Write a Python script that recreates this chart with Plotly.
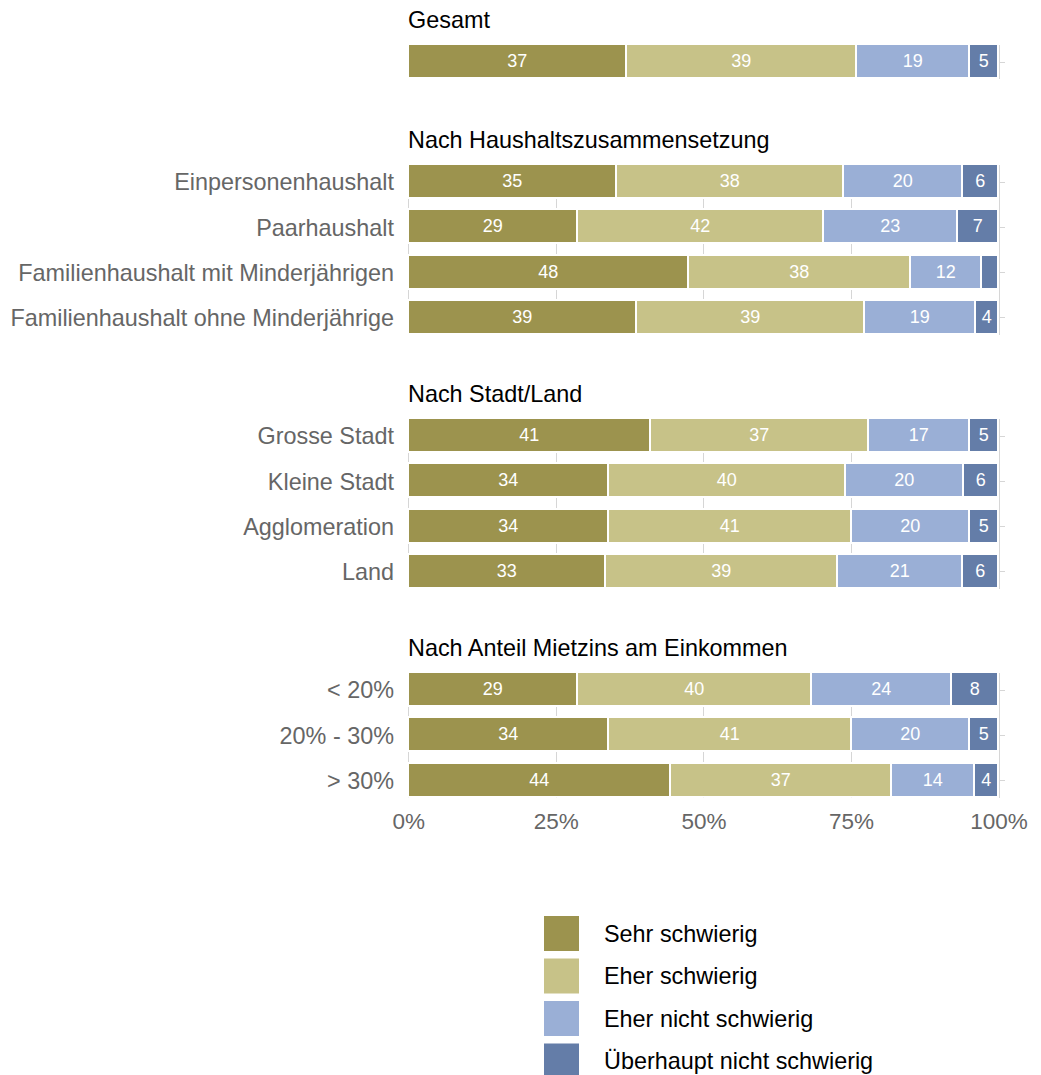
import plotly.graph_objects as go

# ---------------- data ----------------
series_names = ["Sehr schwierig", "Eher schwierig", "Eher nicht schwierig", "Überhaupt nicht schwierig"]
series_colors = ["#9C934E", "#C7C288", "#9AAFD6", "#647DA8"]

panel_titles = ["Gesamt", "Nach Haushaltszusammensetzung", "Nach Stadt/Land", "Nach Anteil Mietzins am Einkommen"]

categories = [
    "Gesamt",
    "Einpersonenhaushalt", "Paarhaushalt", "Familienhaushalt mit Minderjährigen", "Familienhaushalt ohne Minderjährige",
    "Grosse Stadt", "Kleine Stadt", "Agglomeration", "Land",
    "< 20%", "20% - 30%", "> 30%",
]
category_panel = [0, 1, 1, 1, 1, 2, 2, 2, 2, 3, 3, 3]

sehr_schwierig = [37, 35, 29, 48, 39, 41, 34, 34, 33, 29, 34, 44]
eher_schwierig = [39, 38, 42, 38, 39, 37, 40, 41, 39, 40, 41, 37]
eher_nicht_schwierig = [19, 20, 23, 12, 19, 17, 20, 20, 21, 24, 20, 14]
ueberhaupt_nicht_schwierig = [5, 6, 7, 3, 4, 5, 6, 5, 6, 8, 5, 4]
# labels shown in the segments ("" = hidden)
ueberhaupt_labels = ["5", "6", "7", "", "4", "5", "6", "5", "6", "8", "5", "4"]

x_tick_values = [0, 25, 50, 75, 100]
x_tick_labels = ["0%", "25%", "50%", "75%", "100%"]

# ---------------- layout geometry ----------------
W, H = 1041, 1075
ML, MR = 407, 36
PW = W - ML - MR
PITCH = 45.33
BARW = 0.75
panel_tops = [45, 165, 419, 673]
FONT = "Liberation Sans, Arial, Helvetica, sans-serif"
GRID = "#d6d6d6"
FS = 23.4

def px_x(p):
    return (p - ML) / PW

def px_y(p):
    return 1 - p / H

all_values = [sehr_schwierig, eher_schwierig, eher_nicht_schwierig, ueberhaupt_nicht_schwierig]
totals = [sum(v[i] for v in all_values) for i in range(len(categories))]

fig = go.Figure()
layout_axes = {}
annotations = []

for p, title in enumerate(panel_titles):
    idx = [i for i, c in enumerate(category_panel) if c == p]
    cats = [categories[i] for i in idx]
    n = len(cats)
    ax = "" if p == 0 else str(p + 1)
    top = panel_tops[p]
    height = (n - 1 + BARW) * PITCH
    bottom = top + height
    for s, name in enumerate(series_names):
        vals = [all_values[s][i] / totals[i] * 100 for i in idx]
        if s == 3:
            txt = [ueberhaupt_labels[i] for i in idx]
        else:
            txt = [str(all_values[s][i]) for i in idx]
        fig.add_trace(go.Bar(
            x=vals, y=cats, orientation="h", name=name,
            marker=dict(color=series_colors[s], line=dict(color="white", width=1.6)),
            width=BARW, text=txt, textposition="inside", insidetextanchor="middle",
            textangle=0, textfont=dict(color="white", size=18, family=FONT),
            hoverinfo="skip", showlegend=False,
            xaxis="x" + ax, yaxis="y" + ax,
        ))
    layout_axes["xaxis" + ax] = dict(
        domain=[0, 1], anchor="y" + ax, range=[-0.3, 101],
        tickvals=x_tick_values, ticktext=x_tick_labels,
        showticklabels=(p == 3), showgrid=True, gridcolor=GRID, gridwidth=1,
        zeroline=False, showline=False, ticks="", automargin=False,
        ticklabelstandoff=8,
        tickfont=dict(size=22.5, color="#666666", family=FONT),
    )
    layout_axes["yaxis" + ax] = dict(
        domain=[px_y(bottom), px_y(top)], anchor="x" + ax,
        type="category", categoryorder="array", categoryarray=cats,
        range=[n - 1 + BARW / 2, -BARW / 2],
        showticklabels=(p != 0), showgrid=True, gridcolor=GRID, gridwidth=1,
        zeroline=False, showline=False, ticks="", automargin=False,
        ticklabelstandoff=12,
        tickfont=dict(size=FS, color="#666666", family=FONT),
    )
    annotations.append(dict(
        text=title, xref="paper", yref="paper", x=0, y=px_y(top - 25),
        xanchor="left", yanchor="middle", xshift=-1, showarrow=False,
        font=dict(size=FS, color="#000000", family=FONT),
    ))

# legend (drawn manually with big square keys)
shapes = []
leg_x0, leg_size, leg_top, leg_pitch, leg_text_x = 544, 35, 916, 42.5, 602
for s, name in enumerate(series_names):
    y0 = leg_top + s * leg_pitch
    shapes.append(dict(
        type="rect", xref="paper", yref="paper",
        x0=px_x(leg_x0), x1=px_x(leg_x0 + leg_size),
        y0=px_y(y0 + leg_size), y1=px_y(y0),
        fillcolor=series_colors[s], line=dict(width=0),
    ))
    annotations.append(dict(
        text=name, xref="paper", yref="paper", x=px_x(leg_text_x), y=px_y(y0 + leg_size / 2),
        xanchor="left", yanchor="middle", showarrow=False,
        font=dict(size=FS, color="#000000", family=FONT),
    ))

fig.update_layout(
    width=W, height=H, template="none", barmode="stack", bargap=0,
    margin=dict(l=ML, r=MR, t=0, b=0, pad=0),
    paper_bgcolor="white", plot_bgcolor="white",
    annotations=annotations, shapes=shapes, showlegend=False,
    font=dict(family=FONT),
    **layout_axes,
)

fig.write_html("out.html")
